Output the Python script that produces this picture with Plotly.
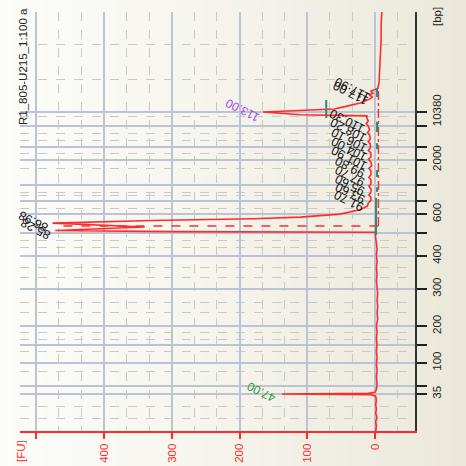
import plotly.graph_objects as go

# Electropherogram trace: migration time (s) and fluorescence (FU)
trace_time = [38.34, 39.5, 40.5, 41.5, 42.5, 43.5, 44.5, 45.5, 46.5, 46.85, 47.0, 47.15, 47.4,
              48.0, 49.5, 51.0, 52.5, 54.0, 55.5, 57.0, 58.5, 60.0, 61.5, 63.0, 64.5, 66.0,
              67.5, 69.0, 70.5, 72.0, 73.5, 75.0, 76.5, 78.0, 79.5, 81.0, 82.5, 83.8, 84.6,
              84.85, 85.0, 85.28, 86.1, 86.98, 87.6, 88.0, 88.4, 89.1, 90.1, 91.0, 91.7,
              92.3, 93.0, 93.6, 94.2, 95.0, 95.6, 96.2, 97.1, 97.7, 98.3, 99.2, 99.8,
              100.4, 101.3, 101.9, 102.5, 103.4, 104.0, 104.6, 105.5, 106.1, 106.7, 107.6,
              108.2, 108.8, 109.7, 110.3, 110.9, 111.6, 112.1, 112.35, 113.0, 113.3, 113.7,
              114.2, 115.1, 116.0, 116.5, 117.0, 117.4, 117.9, 118.5, 120.0, 123.0, 126.0,
              130.0, 133.0, 136.4]
trace_fu = [-1, -2, -1, -3, -1, -2, -1, -2, -1, 6, 137, 10, 0,
            -2, -3, -2, -3, -2, -3, -2, -3, -2, -3, -2, -4, -3,
            -4, -3, -4, -3, -2, -3, -2, -3, -2, -3, -2, -1, -1,
            0, 300, 472, 340, 476, 330, 180, 110, 52, 22, 11, 10,
            6, 6, 9, 6, 6, 9, 6, 6, 9, 6, 6, 9,
            5, 6, 10, 6, 6, 10, 7, 7, 10, 7, 8,
            11, 8, 10, 13, 10, 12, 12, 110, 165, 115, 60,
            46, 22, 8, 4, 8, 3, 6, -4, -6, -7, -8,
            -9, -9, -10]

# Ladder sizes (bp) and their migration times (s)
ladder_bp = [35, 50, 100, 150, 200, 300, 400, 500, 600, 700, 1000, 2000, 3000, 7000, 10380]
ladder_time = [47.0, 48.9, 54.3, 58.5, 62.9, 71.6, 79.3, 84.7, 89.1, 92.2, 95.9,
               101.8, 104.8, 109.7, 113.0]
labelled_bp = [35, 100, 200, 300, 400, 600, 2000, 10380]

# Intermediate (dashed) time grid
minor_time = [41.15, 43.96, 52.15, 56.83, 59.64, 61.28, 65.96, 68.30, 74.15, 76.49,
              81.17, 83.04, 90.53, 93.34, 94.27, 99.66, 103.40, 106.44, 108.08,
              111.83, 120.72, 128.91, 136.40]

# Fluorescence axis ticks
fu_ticks = [0, 100, 200, 300, 400, 500]
fu_ticktext = ["0", "100", "200", "300", "400", ""]
fu_minor = [-33.33, 33.33, 66.67, 133.33, 166.67, 233.33, 266.67, 333.33, 366.67,
            433.33, 466.67]

# Peak labels: migration time (s), peak height (FU), colour
marker_time = [47.00, 113.00]
marker_fu = [137, 165]
marker_colour = ["#2a9a3c", "#9a4ee6"]
peak_time = [85.28, 86.98, 91.7, 93.6, 95.6, 97.7, 99.8, 101.9, 104.0, 106.1, 108.2, 110.3,
             117.0, 117.9]
peak_fu = [472, 476, 10, 9, 9, 9, 9, 10, 10, 10, 11, 13, 8, 6]

# Region boundary (dashed) and baseline (dash-dot)
region_time = [86.3, 118.1]
region_baseline_fu = -5
region_edge_fu = 460

# Peak start/end markers
pk_mark_time = [[84.2, 92.9], [111.6, 115.8], [46.85, 47.15], [116.5, 118.6],
                [108.3, 110.7], [104.3, 105.7], [97.8, 99.4], [94.3, 95.4]]
pk_mark_fu = [-1.5, 72, 62, -3, -3, -3, -3, -3]

SANS = "Liberation Sans, Arial, sans-serif"
RED = "#ff2b2b"
GRID = "#bcc4d3"
DASH_GRID = "#c9c9c6"

W, H = 466, 466
ML, MR, MT, MB = 20, 51, 12, 35
PW, PH = W - ML - MR, H - MT - MB


def paper_x(px):
    return (px - ML) / PW


def paper_y(py):
    return (H - MB - py) / PH


fig = go.Figure()

fig.add_trace(go.Scatter(x=trace_fu, y=trace_time, mode="lines",
                         line=dict(color=RED, width=1.6), hoverinfo="skip"))

# region boundary and baseline
fig.add_trace(go.Scatter(x=[region_baseline_fu, region_edge_fu], y=[region_time[0], region_time[0]],
                         mode="lines", line=dict(color=RED, width=1.4, dash="dash"), hoverinfo="skip"))
fig.add_trace(go.Scatter(x=[region_baseline_fu, region_baseline_fu], y=region_time,
                         mode="lines", line=dict(color=RED, width=1.4, dash="dashdot"), hoverinfo="skip"))

# peak start/end markers
mx, my = [], []
for tt, f in zip(pk_mark_time, pk_mark_fu):
    mx += [f, f, None]
    my += [tt[0], tt[1], None]
fig.add_trace(go.Scatter(x=mx, y=my, mode="lines", line=dict(color="#2f8a70", width=2),
                         hoverinfo="skip"))

annotations = []
LABEL_ANGLE = -153
for t, f, c in zip(marker_time, marker_fu, marker_colour):
    annotations.append(dict(x=f, y=t, xref="x", yref="y", text=f"{t:.2f}", showarrow=False,
                            textangle=LABEL_ANGLE, xanchor="center", yanchor="middle",
                            xshift=-21, yshift=2, font=dict(family=SANS, size=12, color=c)))
for t, f in zip(peak_time, peak_fu):
    annotations.append(dict(x=f, y=t, xref="x", yref="y", text=f"{t:.2f}", showarrow=False,
                            textangle=LABEL_ANGLE, xanchor="center", yanchor="middle",
                            xshift=-19, yshift=2, font=dict(family=SANS, size=12.5, color="#111111")))

annotations.append(dict(x=paper_x(23), y=paper_y(67), xref="paper", yref="paper",
                        xanchor="center", yanchor="middle",
                        text="R1_805-U215_1:100 a", showarrow=False, textangle=-90,
                        font=dict(family=SANS, size=11.5, color="#222222")))
annotations.append(dict(x=paper_x(437), y=paper_y(17), xref="paper", yref="paper",
                        xanchor="center", yanchor="middle",
                        text="[bp]", showarrow=False, textangle=-90,
                        font=dict(family=SANS, size=11.5, color="#222222")))
annotations.append(dict(x=paper_x(21), y=paper_y(451), xref="paper", yref="paper",
                        xanchor="center", yanchor="middle",
                        text="[FU]", showarrow=False, textangle=-90,
                        font=dict(family=SANS, size=11.5, color=RED)))

# soft horizontal background gradient
left_rgb = (252, 252, 249)
right_rgb = (235, 232, 218)
shapes = []
n = 32
for i in range(n):
    f = ((i + 0.5) / n) ** 1.15
    col = "rgb(%d,%d,%d)" % tuple(round(a + (b - a) * f) for a, b in zip(left_rgb, right_rgb))
    shapes.append(dict(type="rect", xref="paper", yref="paper",
                       x0=paper_x(W * i / n) - 0.002, x1=paper_x(W * (i + 1) / n) + 0.002,
                       y0=paper_y(H + 2), y1=paper_y(-2),
                       fillcolor=col, line=dict(width=0), layer="below"))

y_ticktext = [str(b) if b in labelled_bp else "" for b in ladder_bp]

fig.update_layout(
    width=W, height=H, autosize=False,
    margin=dict(l=ML, r=MR, t=MT, b=MB, pad=0),
    paper_bgcolor="rgb(%d,%d,%d)" % right_rgb,
    plot_bgcolor="rgba(0,0,0,0)",
    showlegend=False,
    shapes=shapes,
    annotations=annotations,
    xaxis=dict(range=[524.0, -59.0], tickmode="array", tickvals=fu_ticks, ticktext=fu_ticktext,
               tickangle=-90, tickfont=dict(family=SANS, size=11.5, color=RED),
               ticks="outside", ticklen=6, tickcolor=RED, tickwidth=1.5, automargin=False,
               showline=True, linecolor=RED, linewidth=2,
               showgrid=True, gridcolor=GRID, gridwidth=1.5, zeroline=False,
               minor=dict(tickmode="array", tickvals=fu_minor, showgrid=True,
                          gridcolor=DASH_GRID, griddash="dash", gridwidth=1, ticks="")),
    yaxis=dict(range=[38.34, 136.4], side="right", tickmode="array", tickvals=ladder_time,
               ticktext=y_ticktext, tickangle=-90, automargin=False,
               tickfont=dict(family=SANS, size=11.5, color="#222222"),
               ticks="outside", ticklen=10, tickcolor="#222222", tickwidth=1.5,
               showline=True, linecolor="#333333", linewidth=2,
               showgrid=True, gridcolor=GRID, gridwidth=1.5, zeroline=False,
               minor=dict(tickmode="array", tickvals=minor_time, showgrid=True,
                          gridcolor=DASH_GRID, griddash="dash", gridwidth=1, ticks="")),
)

fig.write_html("out.html")
